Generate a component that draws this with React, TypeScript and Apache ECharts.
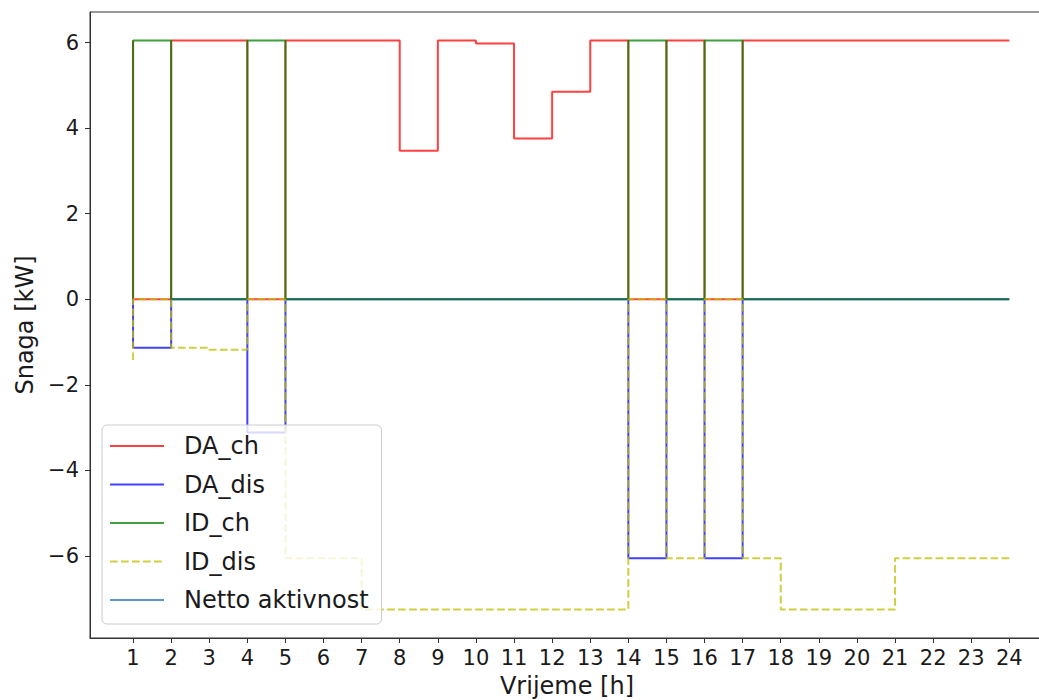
import React, { useEffect, useRef } from "react";
import * as echarts from "echarts";

// Hours on the x axis (matplotlib-style "pre" steps)
const hours: number[] = [1, 2, 3, 4, 5, 6, 7, 8, 9, 10, 11, 12, 13, 14, 15, 16, 17, 18, 19, 20, 21, 22, 23, 24];

const daCh: number[] = [6.05, 0, 6.05, 6.05, 0, 6.05, 6.05, 6.05, 3.47, 6.05, 5.98, 3.76, 4.85, 6.05, 0, 6.05, 0, 6.05, 6.05, 6.05, 6.05, 6.05, 6.05, 6.05];
const daDis: number[] = [0, -1.13, 0, 0, -3.11, 0, 0, 0, 0, 0, 0, 0, 0, 0, -6.05, 0, -6.05, 0, 0, 0, 0, 0, 0, 0];
const idCh: number[] = [0, 6.05, 0, 0, 6.05, 0, 0, 0, 0, 0, 0, 0, 0, 0, 6.05, 0, 6.05, 0, 0, 0, 0, 0, 0, 0];
const idDis: number[] = [-1.42, 0, -1.13, -1.18, 0, -6.05, -6.05, -7.25, -7.25, -7.25, -7.25, -7.25, -7.25, -7.25, 0, -6.05, 0, -6.05, -7.25, -7.25, -7.25, -6.05, -6.05, -6.05];
// Netto aktivnost has no visible trace in the reference
const netto: number[] = [];

const xTicks: number[] = hours;
const yTicks: number[] = [-6, -4, -2, 0, 2, 4, 6];

const seriesNames = ["DA_ch", "DA_dis", "ID_ch", "ID_dis", "Netto aktivnost"];

const FONT = "DejaVu Sans";

function pairs(ys: number[]): number[][] {
  return ys.map((y, i) => [hours[i], y]);
}

export default function App() {
  const ref = useRef<HTMLDivElement>(null);

  useEffect(() => {
    if (!ref.current) return;
    const chart = echarts.init(ref.current, undefined, { renderer: "svg" });

    const mk = (name: string, data: number[], color: string, dashed: boolean) => ({
      name,
      type: "line",
      step: "start",
      data: pairs(data),
      symbol: "none",
      showSymbol: false,
      color,
      lineStyle: {
        color,
        width: 2,
        opacity: 0.75,
        type: dashed ? [7.7, 3.3] : "solid",
        cap: "butt",
      },
      emphasis: { disabled: true },
      z: 2,
    });

    chart.setOption({
      animation: false,
      backgroundColor: "#ffffff",
      grid: {
        left: 90,
        top: 12,
        width: 954,
        height: 626,
        show: true,
        borderColor: "#333333",
        borderWidth: 1,
        backgroundColor: "transparent",
        containLabel: false,
        outerBoundsMode: "none",
      },
      legend: {
        orient: "vertical",
        left: 102,
        top: 425,
        data: seriesNames,
        itemWidth: 54,
        itemHeight: 14,
        itemGap: 10.5,
        padding: [7, 13, 10, 7],
        backgroundColor: "rgba(255,255,255,0.8)",
        borderColor: "#cccccc",
        borderWidth: 1,
        borderRadius: 5,
        itemStyle: { opacity: 0 },
        selectedMode: false,
        textStyle: {
          fontFamily: FONT,
          fontSize: 24,
          color: "#1a1a1a",
          lineHeight: 28,
          padding: [0, 0, 0, 15],
        },
      },
      xAxis: {
        type: "value",
        min: -0.13,
        max: 24.91,
        name: "Vrijeme [h]",
        nameLocation: "middle",
        nameGap: 36,
        nameTextStyle: { fontFamily: FONT, fontSize: 24, color: "#1a1a1a" },
        splitLine: { show: false },
        axisLine: { show: true, onZero: false, lineStyle: { color: "#333333", width: 1 } },
        axisTick: {
          show: true,
          inside: false,
          length: 5,
          customValues: xTicks,
          lineStyle: { color: "#333333", width: 1 },
        },
        axisLabel: {
          show: true,
          margin: 9,
          customValues: xTicks,
          fontFamily: FONT,
          fontSize: 21,
          color: "#1a1a1a",
          formatter: (v: number) => String(v),
        },
      },
      yAxis: {
        type: "value",
        min: -7.915,
        max: 6.715,
        name: "Snaga [kW]",
        nameLocation: "middle",
        nameGap: 52,
        nameTextStyle: { fontFamily: FONT, fontSize: 24, color: "#1a1a1a" },
        splitLine: { show: false },
        axisLine: { show: true, onZero: false, lineStyle: { color: "#333333", width: 1 } },
        axisTick: {
          show: true,
          inside: false,
          length: 5,
          customValues: yTicks,
          lineStyle: { color: "#333333", width: 1 },
        },
        axisLabel: {
          show: true,
          margin: 11,
          customValues: yTicks,
          fontFamily: FONT,
          fontSize: 21,
          color: "#1a1a1a",
          formatter: (v: number) => (v < 0 ? "\u2212" + Math.abs(v) : String(v)),
        },
      },
      series: [
        mk("DA_ch", daCh, "#ff0000", false),
        mk("DA_dis", daDis, "#0000ff", false),
        mk("ID_ch", idCh, "#008000", false),
        mk("ID_dis", idDis, "#bfbf00", true),
        mk("Netto aktivnost", netto, "#1f77b4", false),
      ],
    });

    return () => {
      chart.dispose();
    };
  }, []);

  return (
    <div
      style={{
        position: "fixed",
        left: 0,
        top: 0,
        width: 1039,
        height: 700,
        overflow: "hidden",
        background: "#ffffff",
      }}
    >
      <div ref={ref} style={{ width: 1048, height: 700 }} />
    </div>
  );
}
